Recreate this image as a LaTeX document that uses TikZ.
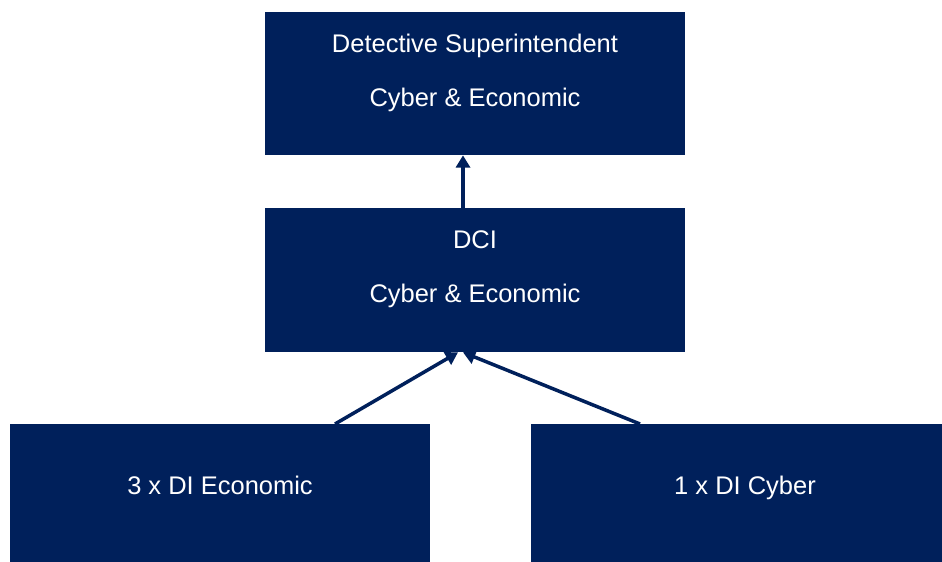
\documentclass[tikz,border=0pt]{standalone}
\usepackage{fontspec}
\setmainfont{Liberation Sans}
\usetikzlibrary{arrows.meta}
\definecolor{navy}{RGB}{0,32,91}

\begin{document}
\begin{tikzpicture}[x=0.02cm, y=-0.02cm]
\tikzset{box/.style={fill=navy, inner sep=0pt, minimum width=8.4cm},
lbl/.style={text=white, align=center, inner sep=0pt, font=\fontsize{14.5}{30.5}\selectfont},
arr/.style={-{Triangle[length=7pt,width=8pt]}, line width=2pt, draw=navy}}
\clip (0,0) rectangle (942,561);

\node[box, minimum height=2.86cm, label={[lbl, yshift=0.21cm]center:Detective Superintendent\\Cyber \& Economic}] (ds) at (475,83.5) {};
\node[box, minimum height=2.88cm, label={[lbl, yshift=0.22cm]center:DCI\\Cyber \& Economic}] (dci) at (475,280) {};
\node[box, anchor=north, minimum height=3cm, label={[lbl, yshift=0.28cm]center:3 x DI Economic}] (econ) at (220,424) {};
\node[box, anchor=north, minimum height=3cm, label={[lbl, yshift=0.22cm, xshift=0.08cm]center:1 x DI Cyber}] (cyber) at (741,424) {};

\draw[arr] ([xshift=-0.24cm]dci.north) -- ([xshift=-0.24cm]ds.south);
\draw[arr] ([xshift=2.3cm]econ.north) -- ([xshift=-0.34cm]dci.south);
\draw[arr] ([xshift=-2.02cm]cyber.north) -- ([xshift=-0.24cm]dci.south);

\end{tikzpicture}
\end{document}
